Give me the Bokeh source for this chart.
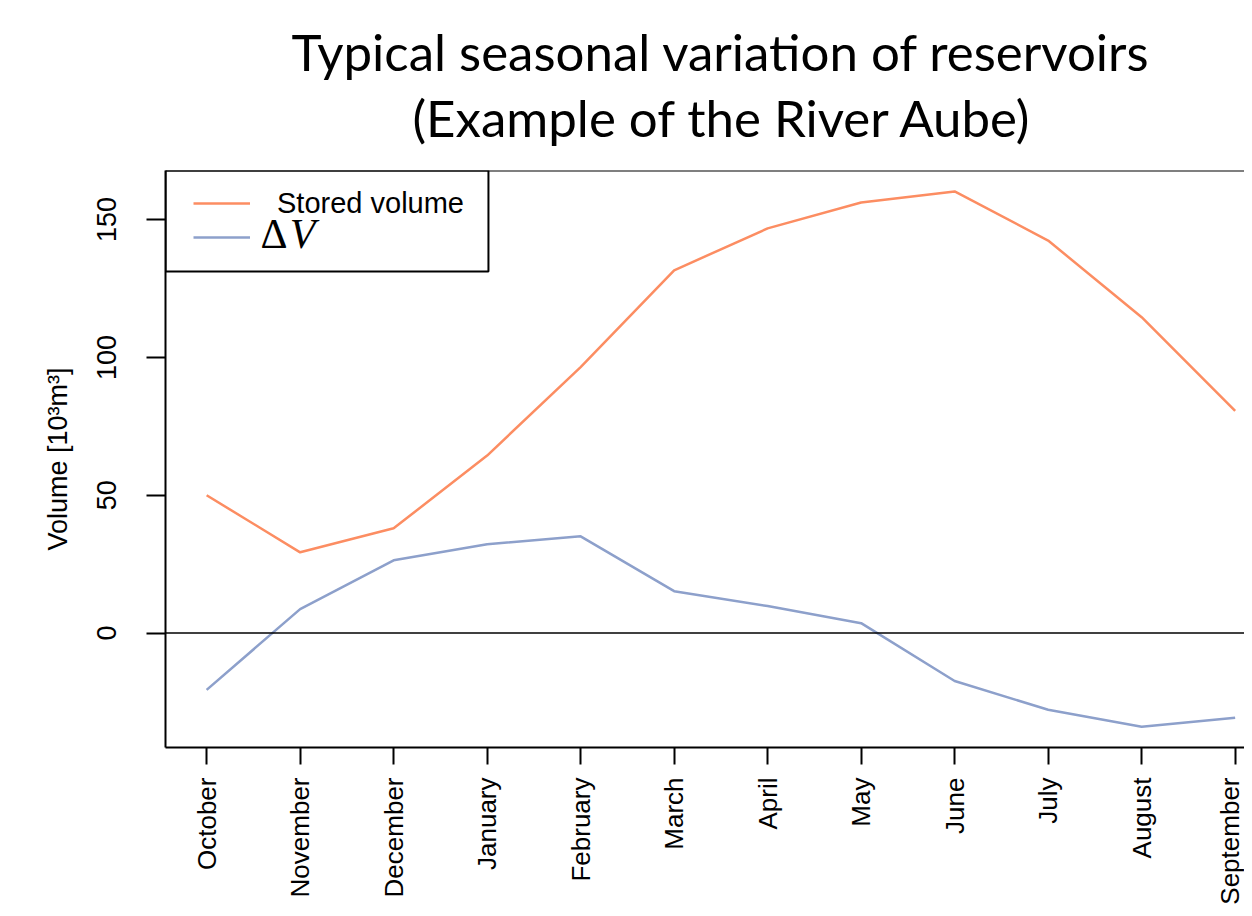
import math
from bokeh.plotting import figure
from bokeh.models import (Range1d, FixedTicker, Span, Label, Legend, LegendItem,
                          BoxAnnotation, ColumnDataSource, Title)
from bokeh.embed import file_html
from bokeh.resources import INLINE

# ---- data ----
months = ["October", "November", "December", "January", "February", "March",
          "April", "May", "June", "July", "August", "September"]
month_index = list(range(1, 13))
stored_volume = [50.0, 29.3, 38.0, 64.4, 96.5, 131.6, 146.8, 156.2, 160.2, 142.4, 114.6, 80.6]
delta_v = [-20.6, 8.7, 26.4, 32.2, 35.1, 15.2, 9.8, 3.6, -17.4, -27.8, -34.0, -30.7]
y_ticks = [0, 50, 100, 150]
title_line1 = "Typical seasonal variation of reservoirs"
title_line2 = "(Example of the River Aube)"

ORANGE = "#FC8D62"
BLUE = "#8DA0CB"
AXIS_FONT = "Liberation Sans"

X0, X1 = 0.56, 12.1
Y0, Y1 = -41.5, 167.8

p = figure(width=1244, height=908, output_backend="svg", toolbar_location=None,
           title=None, x_range=Range1d(X0, X1), y_range=Range1d(Y0, Y1),
           min_border_left=165, min_border_right=0, min_border_top=170,
           min_border_bottom=161)
# titles: added nearest-first
p.add_layout(Title(text=title_line2, align="left", offset=247, text_font="Lato",
                   text_font_size="51px", text_font_style="normal",
                   text_color="black", standoff=46), "above")
p.add_layout(Title(text=title_line1, align="left", offset=126, text_font="Lato",
                   text_font_size="51px", text_font_style="normal",
                   text_color="black", standoff=-40), "above")
p.background_fill_color = "white"
p.border_fill_color = "white"
p.outline_line_color = None
p.grid.visible = False

src = ColumnDataSource(dict(month=month_index, stored=stored_volume, dv=delta_v))
r1 = p.line("month", "stored", source=src, line_color=ORANGE, line_width=2.5)
r2 = p.line("month", "dv", source=src, line_color=BLUE, line_width=2.5)

# axes
for ax in (p.xaxis[0], p.yaxis[0]):
    ax.axis_line_color = "black"
    ax.axis_line_width = 2
    ax.major_tick_line_color = "black"
    ax.major_tick_line_width = 2
    ax.major_tick_in = 0
    ax.minor_tick_line_color = None
    ax.major_label_text_font = AXIS_FONT
    ax.major_label_text_color = "black"

p.xaxis.ticker = FixedTicker(ticks=month_index)
p.xaxis.major_label_overrides = {i: m for i, m in zip(month_index, months)}
p.xaxis.major_label_orientation = math.pi / 2
p.xaxis.major_tick_out = 17
p.xaxis.major_label_standoff = 13
p.xaxis.major_label_text_font_size = "26px"

p.yaxis.ticker = FixedTicker(ticks=y_ticks)
p.yaxis.major_label_orientation = "parallel"
p.yaxis.major_tick_out = 19
p.yaxis.major_label_standoff = 30
p.yaxis.major_label_text_font_size = "27px"
p.yaxis.axis_label = "Volume [10³m³]"
p.yaxis.axis_label_text_font = AXIS_FONT
p.yaxis.axis_label_text_font_size = "27px"
p.yaxis.axis_label_text_font_style = "normal"
p.yaxis.axis_label_text_color = "black"
p.yaxis.axis_label_standoff = 22

# box top and zero line
p.add_layout(Span(location=Y1, dimension="width", line_color="black", line_width=2))
p.add_layout(Span(location=0, dimension="width", line_color="black", line_width=1.5))

# legend box
p.add_layout(BoxAnnotation(left=X0, right=4.014, top=Y1, bottom=131.2,
                           fill_alpha=0, fill_color=None,
                           line_color="black", line_alpha=1, line_width=2))

legend = Legend(items=[LegendItem(label="Stored volume", renderers=[r1]),
                       LegendItem(label=" ", renderers=[r2])],
                location=(28, 493), padding=0, spacing=0, margin=0,
                label_height=34, glyph_height=34, glyph_width=57,
                label_standoff=27, border_line_alpha=0,
                background_fill_alpha=0,
                label_text_font=AXIS_FONT, label_text_font_size="29px",
                label_text_color="black")
p.add_layout(legend)

p.add_layout(Label(x=1.576, y=144.6, text="Δ", text_font="Liberation Serif",
                   text_font_size="42px", text_color="black",
                   text_baseline="alphabetic"))
p.add_layout(Label(x=1.89, y=144.6, text="V", text_font="Liberation Serif",
                   text_font_size="42px", text_font_style="italic",
                   text_color="black", text_baseline="alphabetic"))

open("out.html", "w").write(file_html(p, INLINE))
